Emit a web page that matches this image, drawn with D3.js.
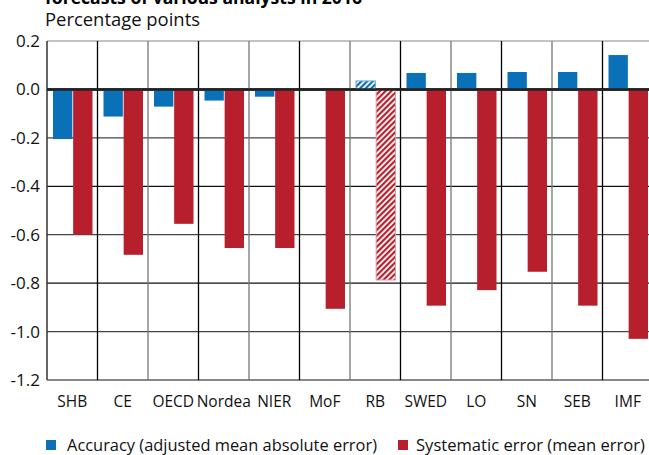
<!DOCTYPE html>
<html>
<head>
<meta charset="utf-8">
<script src="https://cdn.jsdelivr.net/npm/d3@7"></script>
<style>
  body { margin: 0; background: #fff; }
  svg { display: block; font-family: "Open Sans", "Noto Sans", sans-serif; }
</style>
</head>
<body>
<div id="chart"></div>
<script>
// chart data
var categories = ["SHB", "CE", "OECD", "Nordea", "NIER", "MoF", "RB", "SWED", "LO", "SN", "SEB", "IMF"];
var accuracy = [-0.205, -0.112, -0.071, -0.046, -0.03, 0, 0.035, 0.068, 0.068, 0.072, 0.072, 0.142];
var systematic = [-0.60, -0.683, -0.555, -0.655, -0.655, -0.906, -0.787, -0.893, -0.829, -0.753, -0.893, -1.03];
var hatched = ["RB"];
var yTicks = [0.2, 0.0, -0.2, -0.4, -0.6, -0.8, -1.0, -1.2];
var legendLabels = ["Accuracy (adjusted mean absolute error)", "Systematic error (mean error)"];

var blue = "#0a71b9", red = "#b71f2c";
var width = 649, height = 455;
var margin = { top: 41, left: 47, right: -4, bottom: 75 };

var svg = d3.select("#chart").append("svg")
    .attr("width", width)
    .attr("height", height);

// hatch patterns for RB
var defs = svg.append("defs");
[["hatchBlue", blue], ["hatchRed", red]].forEach(function (p) {
    var pat = defs.append("pattern")
        .attr("id", p[0])
        .attr("patternUnits", "userSpaceOnUse")
        .attr("width", 4).attr("height", 4)
        .attr("patternTransform", "rotate(45)");
    pat.append("rect").attr("width", 4).attr("height", 4).attr("fill", "#fff");
    pat.append("rect").attr("width", 2.2).attr("height", 4).attr("fill", p[1]);
});

var x = d3.scaleBand()
    .domain(categories)
    .range([margin.left, width - margin.right]);

var inner = d3.scaleBand()
    .domain(["acc", "sys"])
    .range([6, x.bandwidth() - 5])
    .paddingInner(0.04);

var y = d3.scaleLinear()
    .domain([-1.2, 0.2])
    .range([height - margin.bottom, margin.top]);

// title (cut off at the top, as in the source) and unit
svg.append("text")
    .attr("x", 45).attr("y", 3.5)
    .attr("font-weight", "bold")
    .attr("font-size", 18)
    .attr("textLength", 317)
    .attr("lengthAdjust", "spacingAndGlyphs")
    .attr("fill", "#000")
    .text("forecasts of various analysts in 2016");

svg.append("text")
    .attr("x", 45).attr("y", 26)
    .attr("font-size", 19)
    .attr("textLength", 155)
    .attr("lengthAdjust", "spacingAndGlyphs")
    .attr("fill", "#111")
    .text("Percentage points");

// grid lines
var grid = svg.append("g");
grid.selectAll("line.h")
    .data(yTicks)
    .enter().append("line")
    .attr("class", "h")
    .attr("x1", margin.left).attr("x2", width)
    .attr("y1", d => y(d)).attr("y2", d => y(d))
    .attr("stroke", (d, i) => i == 0 ? "#888" : (i % 2 == 0 ? "#444" : "#111"))
    .attr("stroke-width", d => d == 0 ? 2.5 : 1.2);

grid.selectAll("line.v")
    .data(categories)
    .enter().append("line")
    .attr("class", "v")
    .attr("x1", d => x(d)).attr("x2", d => x(d))
    .attr("y1", y(0.2)).attr("y2", y(-1.2))
    .attr("stroke", (d, i) => i == 0 ? "#333" : (i % 2 == 0 ? "#777" : "#000"))
    .attr("stroke-width", (d, i) => i == 0 ? 1.5 : 1.3);

// y axis labels
svg.append("g")
    .attr("transform", `translate(${margin.left}, 0)`)
    .call(d3.axisLeft(y).tickValues(yTicks).tickFormat(d3.format(".1f")).tickSize(0).tickPadding(7))
    .call(g => g.select(".domain").remove())
    .selectAll("text")
    .attr("font-size", 17)
    .attr("font-family", "Open Sans, Noto Sans, sans-serif")
    .attr("fill", "#111")
    .text(d => d3.format(".1f")(d).replace("−", "-"));

// x axis labels
svg.append("g")
    .attr("transform", `translate(0, ${y(-1.2)})`)
    .call(d3.axisBottom(x).tickSize(0).tickPadding(16))
    .call(g => g.select(".domain").remove())
    .selectAll("text")
    .attr("font-size", 15.5)
    .attr("font-family", "Open Sans, Noto Sans, sans-serif")
    .attr("fill", "#111");

// bars
var bars = svg.append("g");
bars.selectAll("rect.acc")
    .data(categories)
    .enter().append("rect")
    .attr("class", "acc")
    .attr("x", d => x(d) + inner("acc"))
    .attr("width", inner.bandwidth())
    .attr("y", (d, i) => y(Math.max(0, accuracy[i])))
    .attr("height", (d, i) => Math.abs(y(accuracy[i]) - y(0)))
    .attr("fill", d => hatched.includes(d) ? "url(#hatchBlue)" : blue)
    .attr("stroke", d => hatched.includes(d) ? "#6aa6d6" : "none");

bars.selectAll("rect.sys")
    .data(categories)
    .enter().append("rect")
    .attr("class", "sys")
    .attr("x", d => x(d) + inner("sys"))
    .attr("width", inner.bandwidth())
    .attr("y", (d, i) => y(Math.max(0, systematic[i])))
    .attr("height", (d, i) => Math.abs(y(systematic[i]) - y(0)))
    .attr("fill", d => hatched.includes(d) ? "url(#hatchRed)" : red)
    .attr("stroke", d => hatched.includes(d) ? "#e39aa0" : "none");

// zero line on top
svg.append("line")
    .attr("x1", margin.left).attr("x2", width)
    .attr("y1", y(0)).attr("y2", y(0))
    .attr("stroke", "#222")
    .attr("stroke-width", 2.5);

// legend
var legend = svg.append("g").attr("transform", "translate(0, 445)");
var legendX = [46, 398];
var legendLen = [310, 229];
var legendColors = [blue, red];
legendLabels.forEach(function (label, i) {
    legend.append("rect")
        .attr("x", legendX[i]).attr("y", -5)
        .attr("width", 10).attr("height", 10)
        .attr("fill", legendColors[i]);
    legend.append("text")
        .attr("x", legendX[i] + (i == 0 ? 21 : 18)).attr("y", 6)
        .attr("font-size", 16)
        .attr("textLength", legendLen[i])
        .attr("lengthAdjust", "spacingAndGlyphs")
        .attr("fill", "#111")
        .text(label);
});
</script>
</body>
</html>
